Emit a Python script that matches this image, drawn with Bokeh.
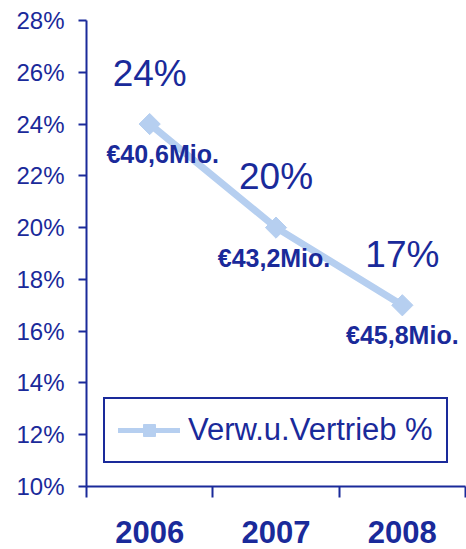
from bokeh.plotting import figure
from bokeh.models import FixedTicker, Range1d, Legend, LegendItem, ColumnDataSource
from bokeh.core.properties import value
from bokeh.embed import file_html
from bokeh.resources import INLINE

years = ["2006", "2007", "2008"]
pct_values = [24, 20, 17]
pct_labels = ["24%", "20%", "17%"]
euro_labels = ["€40,6Mio.", "€43,2Mio.", "€45,8Mio."]
y_ticks = [10, 12, 14, 16, 18, 20, 22, 24, 26, 28]
series_name = "Verw.u.Vertrieb %"

# styling offsets for the euro labels (pixels)
euro_dx = [13, -2, 0]

DARK = "#1a2a9a"
LIGHT = "#b6cff0"
FONT = "Liberation Sans"

xs = [i + 0.5 for i in range(len(years))]

p = figure(width=466, height=549, output_backend="svg", toolbar_location=None,
           x_range=Range1d(0, 3), y_range=Range1d(10, 28),
           min_border_left=86, min_border_right=1, min_border_top=20, min_border_bottom=63)
p.outline_line_color = None
p.xgrid.visible = False
p.ygrid.visible = False

src = ColumnDataSource(dict(x=xs, y=pct_values, pct=pct_labels, euro=euro_labels, dx=euro_dx))

ln = p.line("x", "y", source=src, line_color=LIGHT, line_width=7)
mk = p.scatter("x", "y", source=src, marker="square", size=15, angle=0.785398,
               fill_color=LIGHT, line_color=LIGHT)

# legend-only glyphs (no visible data): thinner line, smaller marker
nan = float("nan")
blank = ColumnDataSource(dict(x=[nan], y=[nan]))
ln_leg = p.line("x", "y", source=blank, line_color=LIGHT, line_width=5, line_cap="round")
mk_leg = p.scatter("x", "y", source=blank, marker="square", size=10, angle=0.785398,
                   fill_color=LIGHT, line_color=LIGHT)

p.text("x", "y", text="pct", source=src, y_offset=-51, text_align="center",
       text_baseline="middle", text_font=value(FONT), text_font_size="37px", text_color=DARK)
p.text("x", "y", text="euro", source=src, x_offset="dx", y_offset=30, text_align="center",
       text_baseline="middle", text_font=value(FONT), text_font_size="25px",
       text_font_style="bold", text_color=DARK)

# axes
xa = p.xaxis[0]
xa.ticker = FixedTicker(ticks=xs, minor_ticks=[0, 1, 2, 3])
xa.major_label_overrides = {x: y for x, y in zip(xs, years)}
xa.major_tick_line_color = None
xa.major_tick_out = 0
xa.major_tick_in = 0
xa.minor_tick_line_color = DARK
xa.minor_tick_line_width = 2
xa.minor_tick_out = 11
xa.minor_tick_in = 0
xa.axis_line_color = DARK
xa.axis_line_width = 2
xa.major_label_text_font = FONT
xa.major_label_text_font_size = "31px"
xa.major_label_text_font_style = "bold"
xa.major_label_text_color = DARK
xa.major_label_standoff = 23

ya = p.yaxis[0]
ya.ticker = FixedTicker(ticks=y_ticks, minor_ticks=[])
ya.major_label_overrides = {t: f"{t}%" for t in y_ticks}
ya.major_tick_line_color = DARK
ya.major_tick_line_width = 2
ya.major_tick_out = 8
ya.major_tick_in = 0
ya.minor_tick_line_color = None
ya.axis_line_color = DARK
ya.axis_line_width = 2
ya.major_label_text_font = FONT
ya.major_label_text_font_size = "24px"
ya.major_label_text_color = DARK
ya.major_label_standoff = 14

legend = Legend(items=[LegendItem(label=series_name, renderers=[ln_leg, mk_leg])],
                location=(17, 23), orientation="vertical")
legend.border_line_color = DARK
legend.border_line_alpha = 1.0
legend.border_line_width = 2
legend.background_fill_color = "white"
legend.background_fill_alpha = 1.0
legend.label_text_font = FONT
legend.label_text_font_size = "31px"
legend.label_text_color = DARK
legend.glyph_width = 62
legend.glyph_height = 30
legend.label_standoff = 8
legend.padding = 13
legend.margin = 0
p.add_layout(legend, "center")

open("out.html", "w").write(file_html(p, INLINE))
